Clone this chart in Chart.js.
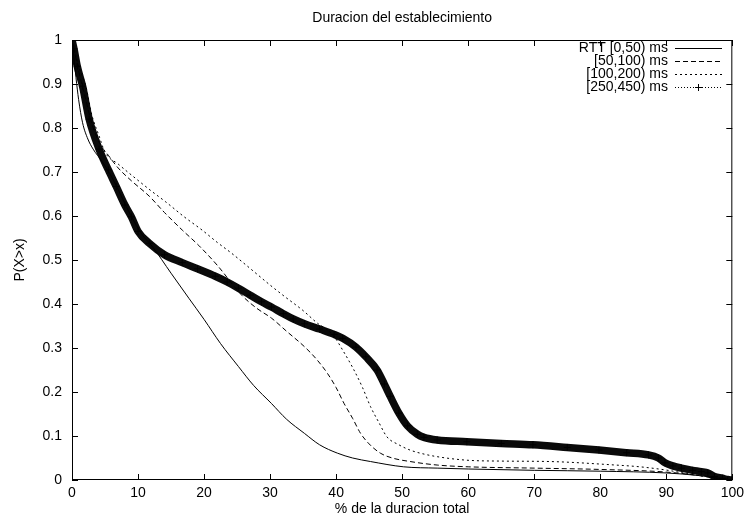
<!DOCTYPE html>
<html lang="es">
<head>
<meta charset="UTF-8">
<title>Duracion del establecimiento</title>
<script src="https://cdn.jsdelivr.net/npm/chart.js"></script>
<style>
  html, body { margin: 0; padding: 0; background: #fff; }
  #wrap { width: 749px; height: 525px; }
</style>
</head>
<body>
<div id="wrap"><canvas id="cdf" width="749" height="525"></canvas></div>
<script>
// curvas complementarias (P(X>x)) por rango de RTT
const seriesNames = ["RTT [0,50) ms", "[50,100) ms", "[100,200) ms", "[250,450) ms"];

const rtt0X = [0, 0.3, 0.6, 1.0, 1.6, 2.4, 3.2, 4.5, 5.7, 7, 8.2, 9.5, 10.5, 12.2, 15, 17.7, 20, 22.5, 25.2, 27.5, 30.2, 32.5, 35.2, 37.5, 40.2, 42.5, 45.2, 50.2, 55.3, 60, 70, 80, 90, 95, 98, 100];
const rtt0Y = [1, 0.96, 0.915, 0.865, 0.812, 0.775, 0.752, 0.725, 0.697, 0.66, 0.622, 0.585, 0.56, 0.53, 0.47, 0.413, 0.365, 0.31, 0.258, 0.215, 0.174, 0.138, 0.106, 0.08, 0.061, 0.05, 0.042, 0.03, 0.027, 0.025, 0.022, 0.02, 0.016, 0.01, 0.004, 0];

const rtt1X = [0, 0.5, 1, 2, 3, 4.2, 5.5, 7, 9, 11.7, 14, 16.7, 19.2, 22, 25.7, 28, 30.2, 32.5, 35.2, 37, 38.7, 40, 41.2, 42.5, 43.7, 45, 46.7, 48.5, 51.2, 55.3, 60, 70, 80, 90, 95, 98, 100];
const rtt1Y = [1, 0.965, 0.93, 0.87, 0.81, 0.765, 0.738, 0.709, 0.68, 0.645, 0.608, 0.568, 0.533, 0.488, 0.42, 0.39, 0.368, 0.338, 0.303, 0.275, 0.242, 0.21, 0.174, 0.14, 0.106, 0.082, 0.061, 0.05, 0.042, 0.034, 0.03, 0.027, 0.024, 0.018, 0.01, 0.003, 0];

const rtt2X = [0, 0.5, 1, 2.1, 3, 4.1, 5, 7, 10, 12, 14.2, 17, 19.7, 22, 24.2, 26, 28, 30, 32.2, 35, 37.2, 38.5, 39.7, 41, 42.7, 44, 45.2, 46.5, 47.7, 49.5, 51.2, 53, 55.3, 59.8, 65, 72.3, 82.3, 86, 89.8, 93, 95, 97.3, 100];
const rtt2Y = [1, 0.97, 0.94, 0.895, 0.83, 0.782, 0.745, 0.718, 0.681, 0.657, 0.632, 0.598, 0.568, 0.54, 0.515, 0.493, 0.468, 0.443, 0.417, 0.385, 0.356, 0.343, 0.326, 0.295, 0.25, 0.21, 0.167, 0.13, 0.098, 0.08, 0.068, 0.06, 0.053, 0.045, 0.043, 0.042, 0.034, 0.03, 0.023, 0.015, 0.01, 0.005, 0];

const rtt3X = [0, 0.3, 0.8, 1.6, 2.6, 4.1, 5.5, 6.7, 8, 9, 10, 11.7, 14, 16.7, 19, 21.7, 23.5, 25.2, 27, 28.7, 30.2, 32, 33.5, 35.2, 37.5, 39.7, 41, 43, 44.5, 46.2, 47.3, 48.2, 49.5, 50.8, 52.3, 53.3, 55.3, 59.8, 65, 69.8, 75, 79.8, 84, 87.3, 88.8, 89.8, 91, 92.3, 94, 95.3, 96.3, 97.3, 98.5, 99.3, 100];
const rtt3Y = [1, 0.98, 0.94, 0.895, 0.82, 0.752, 0.705, 0.667, 0.625, 0.598, 0.565, 0.538, 0.512, 0.494, 0.48, 0.463, 0.45, 0.436, 0.42, 0.405, 0.393, 0.378, 0.366, 0.355, 0.343, 0.331, 0.322, 0.302, 0.28, 0.25, 0.218, 0.19, 0.152, 0.123, 0.104, 0.097, 0.091, 0.087, 0.083, 0.08, 0.074, 0.068, 0.062, 0.057, 0.05, 0.039, 0.032, 0.027, 0.022, 0.019, 0.016, 0.008, 0.004, 0.001, 0];

const xTicks = [0, 10, 20, 30, 40, 50, 60, 70, 80, 90, 100];
const yTicks = [0, 0.1, 0.2, 0.3, 0.4, 0.5, 0.6, 0.7, 0.8, 0.9, 1];

const FONT = "Liberation Sans, Arial, Helvetica, sans-serif";
const FSIZE = 14;

function pts(xs, ys) {
  return xs.map((x, i) => ({ x: x, y: ys[i] }));
}

const dashes = [[], [5, 3], [2, 3], [1, 2]];

const datasets = [
  { label: seriesNames[0], data: pts(rtt0X, rtt0Y), borderColor: "#000", borderWidth: 1, borderDash: dashes[0], pointRadius: 0 },
  { label: seriesNames[1], data: pts(rtt1X, rtt1Y), borderColor: "#000", borderWidth: 1, borderDash: dashes[1], pointRadius: 0 },
  { label: seriesNames[2], data: pts(rtt2X, rtt2Y), borderColor: "#000", borderWidth: 1, borderDash: dashes[2], pointRadius: 0 },
  { label: seriesNames[3], data: pts(rtt3X, rtt3Y), borderColor: "#0a0a0a", borderWidth: 7.5,
    pointStyle: "cross", pointRadius: 3.5, pointBorderWidth: 1, pointBorderColor: "#000" }
];

// marco estilo gnuplot: caja, marcas hacia dentro, titulos y leyenda
const gnuFrame = {
  id: "gnuFrame",
  afterDraw(chart) {
    const ctx = chart.ctx;
    const a = chart.chartArea;
    const xs = chart.scales.x, ys = chart.scales.y;
    ctx.save();
    ctx.strokeStyle = "#000";
    ctx.lineWidth = 1;
    ctx.setLineDash([]);
    ctx.strokeRect(a.left + 0.5, a.top + 0.5, a.right - a.left - 1, a.bottom - a.top - 1);
    ctx.beginPath();
    xTicks.forEach(v => {
      const px = Math.round(xs.getPixelForValue(v)) + 0.5;
      ctx.moveTo(px, a.bottom); ctx.lineTo(px, a.bottom - 6);
      ctx.moveTo(px, a.top); ctx.lineTo(px, a.top + 6);
    });
    yTicks.forEach(v => {
      const py = Math.round(ys.getPixelForValue(v)) + 0.5;
      ctx.moveTo(a.left, py); ctx.lineTo(a.left + 6, py);
      ctx.moveTo(a.right, py); ctx.lineTo(a.right - 6, py);
    });
    ctx.stroke();

    ctx.fillStyle = "#000";
    ctx.font = FSIZE + "px " + FONT;
    ctx.textAlign = "center";
    ctx.textBaseline = "middle";
    ctx.fillText("Duracion del establecimiento", (a.left + a.right) / 2, 18);
    ctx.fillText("% de la duracion total", (a.left + a.right) / 2, 509);
    ctx.save();
    ctx.translate(20, (a.top + a.bottom) / 2);
    ctx.rotate(-Math.PI / 2);
    ctx.fillText("P(X>x)", 0, 0);
    ctx.restore();

    // leyenda
    ctx.textAlign = "right";
    seriesNames.forEach((name, i) => {
      const y = 48 + i * 13;
      ctx.fillText(name, 668, y);
      ctx.beginPath();
      ctx.setLineDash(i === 3 ? [1, 2] : dashes[i]);
      ctx.moveTo(675, y + 0.5);
      ctx.lineTo(722, y + 0.5);
      ctx.stroke();
      if (i === 3) {
        ctx.setLineDash([]);
        ctx.beginPath();
        ctx.moveTo(698.5, y - 3); ctx.lineTo(698.5, y + 4);
        ctx.moveTo(695, y + 0.5); ctx.lineTo(702, y + 0.5);
        ctx.stroke();
      }
    });
    ctx.restore();
  }
};

new Chart(document.getElementById("cdf"), {
  type: "line",
  data: { datasets: datasets },
  options: {
    responsive: false,
    animation: false,
    layout: { padding: { left: 0, right: 11, top: 40, bottom: 0 } },
    elements: { line: { cubicInterpolationMode: "monotone" } },
    plugins: { legend: { display: false }, tooltip: { enabled: false }, title: { display: false } },
    scales: {
      x: {
        type: "linear", min: 0, max: 100,
        afterFit(s) { s.height = 45; },
        afterBuildTicks(s) { s.ticks = xTicks.map(v => ({ value: v })); },
        grid: { display: false, drawTicks: false },
        border: { display: false },
        ticks: { color: "#000", font: { family: FONT, size: FSIZE }, padding: 5, maxRotation: 0 }
      },
      y: {
        type: "linear", min: 0, max: 1,
        afterFit(s) { s.width = 72; },
        afterBuildTicks(s) { s.ticks = yTicks.map(v => ({ value: v })); },
        grid: { display: false, drawTicks: false },
        border: { display: false },
        ticks: { color: "#000", font: { family: FONT, size: FSIZE }, padding: 10,
          callback: v => String(+v.toFixed(1)) }
      }
    }
  },
  plugins: [gnuFrame]
});
</script>
</body>
</html>
